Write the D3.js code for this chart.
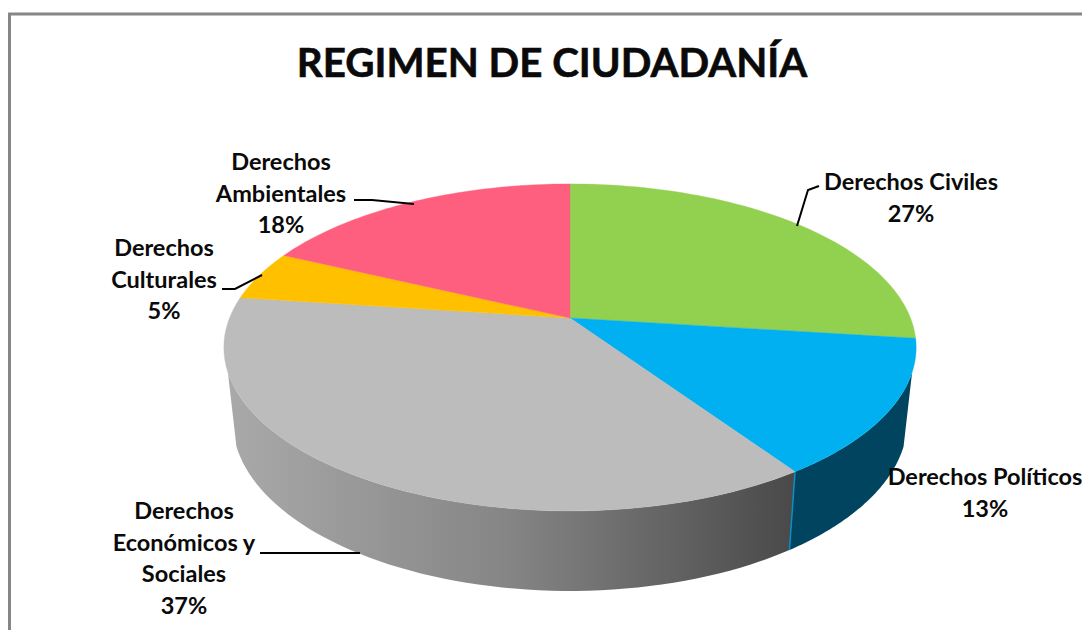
<!DOCTYPE html>
<html><head><meta charset="utf-8">
<script src="https://cdn.jsdelivr.net/npm/d3@7/dist/d3.min.js"></script>
<style>html,body{margin:0;padding:0;background:#fff;overflow:hidden}svg{display:block}text{font-family:Lato,"Open Sans",sans-serif;font-weight:700;fill:#0a0a0a}</style>
</head><body><svg id="c" width="1082" height="630"></svg>
<script>
const titleText = "REGIMEN DE CIUDADANÍA";
const categories = ["Derechos Civiles","Derechos Políticos","Derechos Económicos y Sociales","Derechos Culturales","Derechos Ambientales"];
const values = [27, 13.49, 36.6, 4.91, 18];
const colors = ["#92d050","#00b0f0","#bcbcbc","#ffc000","#ff5f7e"];
const labelLines = [["Derechos Civiles"],["Derechos Políticos"],["Derechos","Económicos y","Sociales"],["Derechos","Culturales"],["Derechos","Ambientales"]];

// layout
const labelPos = [{x:911,y:182},{x:985,y:477},{x:184,y:511},{x:164,y:248},{x:281,y:162}];
const leaders = [
  [[819,186],[808,190],[797,226]],
  null,
  [[260,553],[360,553]],
  [[222,289],[235,289],[262,275]],
  [[354,200],[372,200],[414,204]]
];
const LH = 31.5;
const cx=570, cy=318, A=158.2, C=-0.18, D=340.5, depth=80, shrink=0.975;
const sideFrom=1.9, sideTo=2*Math.PI-1.9;

const svg=d3.select("#c");
const pie=d3.pie().value(d=>d).sort(null);
const arcs=pie(values);

function rimTop(a){const u=Math.sin(a),v=-Math.cos(a),w=1+C*v;return [cx+D*u/w, cy+A*v/w];}
function rimBot(a){const p=rimTop(a);return [cx+(p[0]-cx)*shrink, p[1]+depth*(0.9+0.1*((p[1]-cy)/193))];}
const line=d3.line();
const sample=(a0,a1)=>d3.range(0,61).map(i=>a0+(a1-a0)*i/60);

const defs=svg.append("defs");
const grad=defs.append("linearGradient").attr("id","greySide").attr("gradientUnits","userSpaceOnUse")
  .attr("x1",228).attr("x2",790).attr("y1",0).attr("y2",0);
grad.append("stop").attr("offset",0).attr("stop-color","#a9a9a9");
grad.append("stop").attr("offset",0.5).attr("stop-color","#858585");
grad.append("stop").attr("offset",1).attr("stop-color","#4a4a4a");

// frame
svg.append("path").attr("d",line([[9.5,630],[9.5,14],[1082,14]])).attr("fill","none").attr("stroke","#868686").attr("stroke-width",3);

// sides
const sideFill=["none","#00445f","url(#greySide)"];
arcs.forEach((d,i)=>{
  if(sideFill[i]==="none"||!sideFill[i])return;
  const a0=Math.max(d.startAngle,sideFrom),a1=Math.min(d.endAngle,sideTo);
  const s=sample(a0,a1);
  svg.append("path").attr("d",line(s.map(rimTop).concat(s.slice().reverse().map(rimBot)))+"Z").attr("fill",sideFill[i]);
});
// seam between the two visible sides
const seam=arcs[1].endAngle;
svg.append("path").attr("d",line([rimTop(seam),rimBot(seam)])).attr("stroke","#0a8fc4").attr("stroke-width",1.5).attr("fill","none");

// top face slices
arcs.forEach((d,i)=>{
  const pts=sample(d.startAngle,d.endAngle).map(rimTop);
  svg.append("path").attr("d",line([[cx,cy]].concat(pts))+"Z").attr("fill",colors[i]).attr("stroke",colors[i]).attr("stroke-width",0.4);
});

// leaders
leaders.forEach(l=>{ if(l) svg.append("path").attr("d",line(l)).attr("fill","none").attr("stroke","#000").attr("stroke-width",2); });

// labels
arcs.forEach((d,i)=>{
  const lines=labelLines[i].concat([Math.round(d.data)+"%"]);
  const g=svg.append("text").attr("text-anchor","middle").attr("font-size",23.5);
  lines.forEach((t,j)=>g.append("tspan").attr("x",labelPos[i].x).attr("y",labelPos[i].y+j*LH+8).text(t));
});
svg.append("text").attr("x",552).attr("y",77).attr("text-anchor","middle").attr("font-size",40.3).attr("stroke","#0a0a0a").attr("stroke-width",0.6).text(titleText);
</script></body></html>
